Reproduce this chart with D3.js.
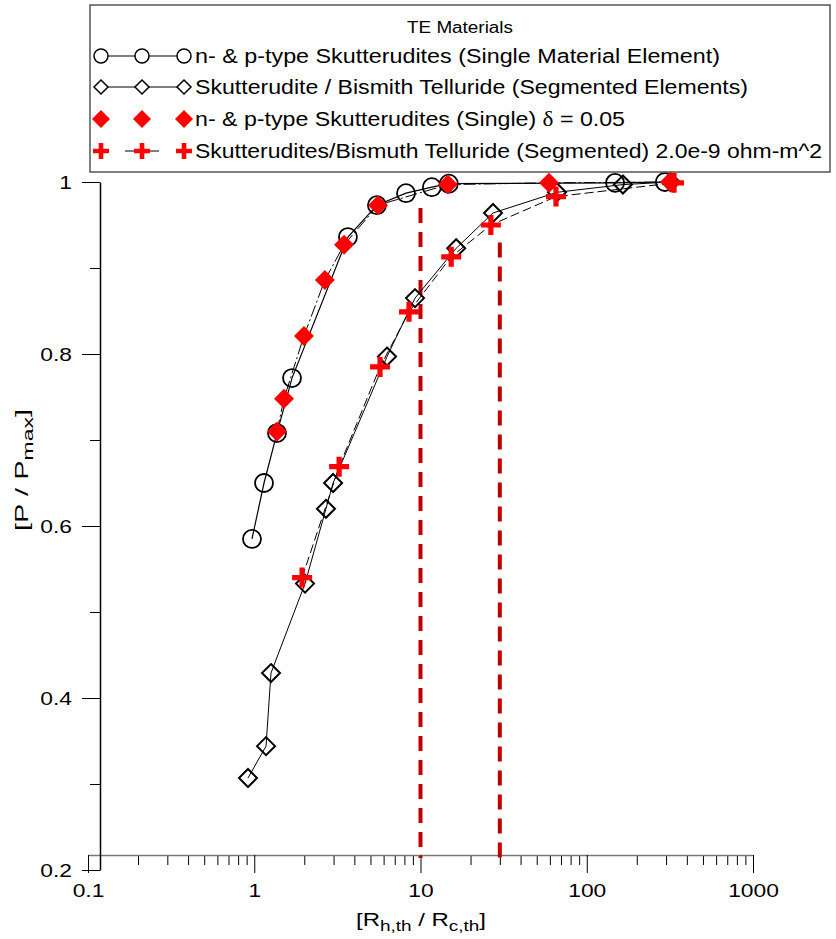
<!DOCTYPE html>
<html>
<head>
<meta charset="utf-8">
<script src="https://cdn.jsdelivr.net/npm/d3@7"></script>
<style>
  body { margin: 0; background: #fff; }
  svg text { font-family: "Liberation Sans", Arial, sans-serif; }
</style>
</head>
<body>
<div id="general"></div>
<script>
const w = 836, h = 939;

// data: x = Rh,th / Rc,th, y = P / Pmax
const singleX = [0.969, 1.145, 1.37, 1.687, 3.66, 5.47, 8.18, 11.7, 14.8, 148, 295];
const singleY = [0.585, 0.650, 0.708, 0.772, 0.936, 0.973, 0.987, 0.994, 0.998, 0.999, 1.0];

const segX = [0.917, 1.177, 1.261, 2.02, 2.70, 2.98, 6.29, 9.27, 16.4, 27.3, 66.2, 165, 320];
const segY = [0.307, 0.344, 0.429, 0.533, 0.620, 0.650, 0.797, 0.865, 0.923, 0.964, 0.988, 0.997, 1.0];

const singleDeltaX = [1.37, 1.51, 1.99, 2.66, 3.47, 5.55, 14.6, 59.3, 317];
const singleDeltaY = [0.710, 0.748, 0.821, 0.886, 0.927, 0.973, 0.997, 0.999, 1.0];

const segResX = [1.94, 3.24, 5.71, 8.53, 15.3, 26.5, 65.3, 335];
const segResY = [0.540, 0.669, 0.785, 0.849, 0.913, 0.950, 0.983, 0.999];

const refLinesX = [10, 30];
const refLinesTop = [1.0, 0.96];

const xMajor = [0.1, 1, 10, 100, 1000];
const yMajor = [0.2, 0.4, 0.6, 0.8, 1];
const yMinor = [0.3, 0.5, 0.7, 0.9];

const legendTitle = "TE Materials";
const legendLabels = [
  "n- & p-type Skutterudites (Single Material Element)",
  "Skutterudite / Bismith Telluride (Segmented Elements)",
  "n- & p-type Skutterudites (Single) ",
  "Skutterudites/Bismuth Telluride (Segmented) 2.0e-9 ohm-m^2"
];
const legendWidths = [525, 553, 430, 627];

const zip = (xs, ys) => xs.map((d, i) => ({ x: d, y: ys[i] }));

const svg = d3.select("#general").append("svg").attr("width", w).attr("height", h);

const x = d3.scaleLog().domain([0.1, 1000]).range([88, 753]);
const y = d3.scaleLinear().domain([0.2, 1]).range([870, 182]);

const xMinor = [];
[0.1, 1, 10, 100].forEach(dec => { for (let k = 2; k <= 9; k++) xMinor.push(dec * k); });

// tick labels in the picture are wider than Arial, stretch them a bit
function widen(sel, k) {
  sel.each(function () {
    const len = this.getComputedTextLength();
    d3.select(this).attr("textLength", len * k).attr("lengthAdjust", "spacingAndGlyphs");
  });
}

// axes
const gx = svg.append("g").attr("transform", "translate(0,855)");
gx.call(d3.axisBottom(x).tickValues(xMinor).tickSize(10).tickSizeOuter(0).tickFormat(""));
gx.call(g => g.select(".domain").remove());
const gx2 = svg.append("g").attr("transform", "translate(0,855)");
gx2.call(d3.axisBottom(x).tickValues(xMajor).tickSize(18).tickSizeOuter(0).tickPadding(11).tickFormat(d => d));
gx2.select(".domain").attr("stroke", "#777").attr("stroke-width", 1.5);
svg.selectAll("g.tick line").attr("stroke", "#000");
gx2.selectAll("text").attr("font-size", 19).attr("fill", "#000").call(widen, 1.2);

const gy = svg.append("g").attr("transform", "translate(100,0)");
gy.call(d3.axisLeft(y).tickValues(yMinor).tickSize(10).tickSizeOuter(0).tickFormat(""));
gy.call(g => g.select(".domain").remove());
const gy2 = svg.append("g").attr("transform", "translate(100,0)");
gy2.call(d3.axisLeft(y).tickValues(yMajor).tickSize(18).tickSizeOuter(0).tickPadding(10).tickFormat(d => d));
gy2.select(".domain").attr("stroke", "#000").attr("stroke-width", 1.5);
gy2.selectAll("text").attr("font-size", 19).attr("fill", "#000").call(widen, 1.2);

// reference lines
svg.append("g").selectAll("line")
  .data(refLinesX)
  .join("line")
  .attr("x1", d => x(d)).attr("x2", d => x(d))
  .attr("y1", (d, i) => y(refLinesTop[i]) + 26).attr("y2", 858)
  .attr("stroke", "#c00000")
  .attr("stroke-width", 4)
  .attr("stroke-dasharray", "15,9");

const line = d3.line().x(d => x(d.x)).y(d => y(d.y));

const diamond = s => `M0,${-s}L${s},0L0,${s}L${-s},0Z`;
const plus = (s, t) => `M${-t},${-s}H${t}V${-t}H${s}V${t}H${t}V${s}H${-t}V${t}H${-s}V${-t}H${-t}Z`;

// lines
svg.append("path").datum(zip(segX, segY)).attr("d", line)
  .attr("fill", "none").attr("stroke", "#000").attr("stroke-width", 1);
svg.append("path").datum(zip(segResX, segResY)).attr("d", line)
  .attr("fill", "none").attr("stroke", "#000").attr("stroke-width", 1).attr("stroke-dasharray", "9,4");
svg.append("path").datum(zip(singleX, singleY)).attr("d", line)
  .attr("fill", "none").attr("stroke", "#000").attr("stroke-width", 1.2);
svg.append("path").datum(zip(singleDeltaX, singleDeltaY)).attr("d", line)
  .attr("fill", "none").attr("stroke", "#000").attr("stroke-width", 1).attr("stroke-dasharray", "12,3,2,3");

// markers
svg.append("g").selectAll("path")
  .data(zip(segX, segY))
  .join("path")
  .attr("transform", d => `translate(${x(d.x)},${y(d.y)})`)
  .attr("d", diamond(9))
  .attr("fill", "none").attr("stroke", "#000").attr("stroke-width", 2);

svg.append("g").selectAll("circle")
  .data(zip(singleX, singleY))
  .join("circle")
  .attr("cx", d => x(d.x)).attr("cy", d => y(d.y)).attr("r", 9)
  .attr("fill", "none").attr("stroke", "#000").attr("stroke-width", 1.8);

svg.append("g").selectAll("path")
  .data(zip(singleDeltaX, singleDeltaY))
  .join("path")
  .attr("transform", d => `translate(${x(d.x)},${y(d.y)})`)
  .attr("d", diamond(10))
  .attr("fill", "#ff0000");

svg.append("g").selectAll("path")
  .data(zip(segResX, segResY))
  .join("path")
  .attr("transform", d => `translate(${x(d.x)},${y(d.y)})`)
  .attr("d", plus(10, 2.6))
  .attr("fill", "#ff0000");

// axis titles
const xt = svg.append("text").attr("x", 421).attr("y", 926).attr("text-anchor", "middle").attr("font-size", 19)
  .attr("textLength", 130).attr("lengthAdjust", "spacingAndGlyphs");
xt.append("tspan").text("[R");
xt.append("tspan").attr("font-size", 15).attr("dy", 5).text("h,th");
xt.append("tspan").attr("dy", -5).text(" / R");
xt.append("tspan").attr("font-size", 15).attr("dy", 5).text("c,th");
xt.append("tspan").attr("dy", -5).text("]");

const yt = svg.append("text").attr("transform", "translate(28,470) rotate(-90)").attr("text-anchor", "middle").attr("font-size", 19)
  .attr("textLength", 122).attr("lengthAdjust", "spacingAndGlyphs");
yt.append("tspan").text("[P / P");
yt.append("tspan").attr("font-size", 15).attr("dy", 5).text("max");
yt.append("tspan").attr("dy", -5).text("]");

// legend
const lg = svg.append("g");
lg.append("rect").attr("x", 90).attr("y", 5).attr("width", 740).attr("height", 167)
  .attr("fill", "#fff").attr("stroke", "#555").attr("stroke-width", 1.5);
lg.append("text").attr("x", 460).attr("y", 33).attr("text-anchor", "middle").attr("font-size", 16)
  .attr("textLength", 106).attr("lengthAdjust", "spacingAndGlyphs").text(legendTitle);

const rowY = [56, 87, 119, 151];
const symX = [101, 142, 184];
// row 1 circles
lg.append("line").attr("x1", symX[0]).attr("x2", symX[2]).attr("y1", rowY[0]).attr("y2", rowY[0]).attr("stroke", "#000");
lg.append("g").selectAll("circle").data(symX).join("circle")
  .attr("cx", d => d).attr("cy", rowY[0]).attr("r", 7).attr("fill", "#fff").attr("stroke", "#000").attr("stroke-width", 1.5);
// row 2 diamonds
lg.append("line").attr("x1", symX[0]).attr("x2", symX[2]).attr("y1", rowY[1]).attr("y2", rowY[1]).attr("stroke", "#000");
lg.append("g").selectAll("path").data(symX).join("path")
  .attr("transform", d => `translate(${d},${rowY[1]})`).attr("d", diamond(7))
  .attr("fill", "#fff").attr("stroke", "#000").attr("stroke-width", 1.5);
// row 3 red diamonds
lg.append("g").selectAll("path").data(symX).join("path")
  .attr("transform", d => `translate(${d},${rowY[2]})`).attr("d", diamond(9)).attr("fill", "#ff0000");
// row 4 red plus
lg.append("line").attr("x1", symX[1] - 17).attr("x2", symX[1] + 17).attr("y1", rowY[3]).attr("y2", rowY[3])
  .attr("stroke", "#000").attr("stroke-dasharray", "9,16");
lg.append("g").selectAll("path").data(symX).join("path")
  .attr("transform", d => `translate(${d},${rowY[3]})`).attr("d", plus(8, 2.3)).attr("fill", "#ff0000");

const labels = lg.append("g").selectAll("text").data(legendLabels).join("text")
  .attr("x", 195).attr("y", (d, i) => rowY[i] + 7).attr("font-size", 20)
  .attr("textLength", (d, i) => legendWidths[i]).attr("lengthAdjust", "spacingAndGlyphs")
  .text(d => d);
const row3 = labels.filter((d, i) => i === 2);
row3.append("tspan").attr("font-family", "Liberation Serif, serif").text("δ");
row3.append("tspan").text(" = 0.05");
</script>
</body>
</html>
